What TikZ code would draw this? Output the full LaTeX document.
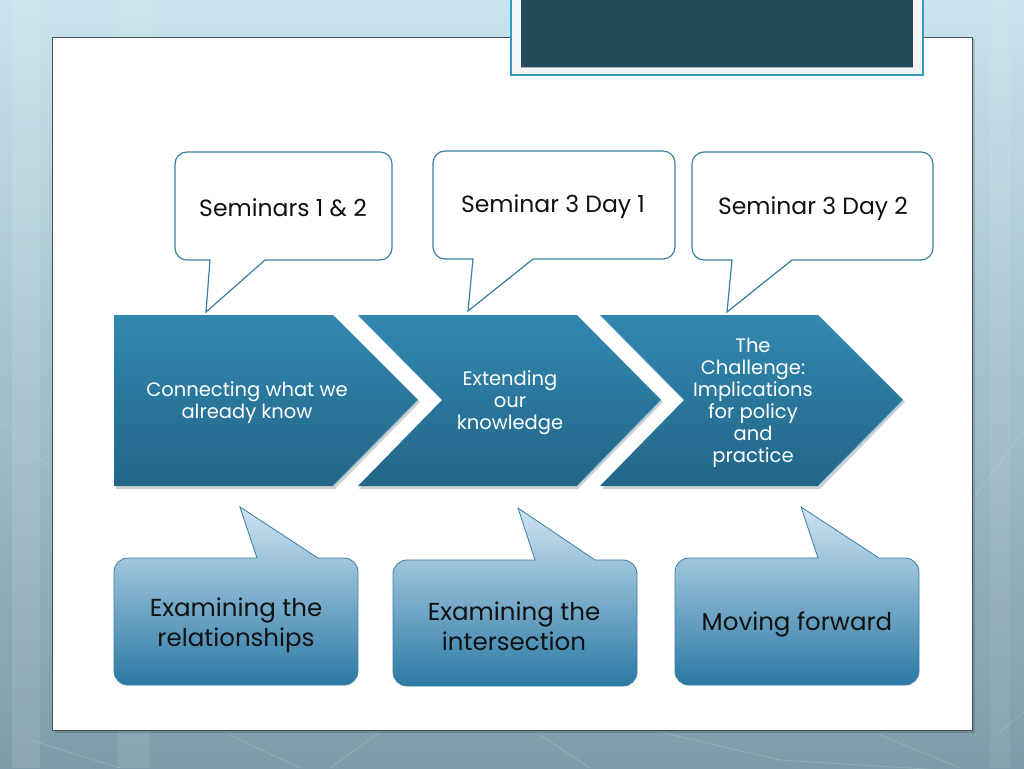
\documentclass[tikz,border=0pt]{standalone}
\usepackage{fontspec}
\setmainfont{Poppins}
\definecolor{bgtop}{HTML}{C8E4EC}
\definecolor{bgmid}{HTML}{A6C7D0}
\definecolor{bgbot}{HTML}{7C9DA7}
\definecolor{panelborder}{HTML}{4A5258}
\definecolor{framefill}{HTML}{F2F4F5}
\definecolor{frameline}{HTML}{2F9CC0}
\definecolor{darkbox}{HTML}{234A5A}
\definecolor{callline}{HTML}{3A80A2}
\definecolor{chevtop}{HTML}{3288B0}
\definecolor{chevbot}{HTML}{226587}
\definecolor{chevedge}{HTML}{6DB0D2}
\definecolor{bubtop}{HTML}{CFE4F3}
\definecolor{bubbot}{HTML}{2A79A4}
\definecolor{bubline}{HTML}{3B7FA3}
\definecolor{txt}{HTML}{111111}
\newcommand\topbubble[8]{({#1+12},#2) -- ({#3-12},#2) arc[start angle=90,end angle=0,radius=12] -- (#3,{#4+12}) arc[start angle=0,end angle=-90,radius=12] -- (#6,#4) -- (#7,#8) -- (#5,#4) -- ({#1+12},#4) arc[start angle=270,end angle=180,radius=12] -- (#1,{#2-12}) arc[start angle=180,end angle=90,radius=12] -- cycle}
\newcommand\botbubble[8]{({#1+14},#2) -- (#5,#2) -- (#7,#8) -- (#6,#2) -- ({#3-14},#2) arc[start angle=90,end angle=0,radius=14] -- (#3,{#4+14}) arc[start angle=0,end angle=-90,radius=14] -- ({#1+14},#4) arc[start angle=270,end angle=180,radius=14] -- (#1,{#2-14}) arc[start angle=180,end angle=90,radius=14] -- cycle}
\tikzset{
  callw/.style={fill=white, draw=callline, line width=1.2pt, line join=miter},
  chevshape/.style={top color=chevtop, bottom color=chevbot},
  chevshadow/.style={fill=black, opacity=0.18},
  chevrim/.style={draw=chevedge, line width=0.8pt},
  bubshape/.style={top color=bubtop, bottom color=bubbot, draw=bubline, line width=0.8pt},
  toptext/.style={text=txt, font=\fontsize{23.5}{28}\selectfont, inner sep=0pt},
  chevtext/.style={text=white, align=center, font=\fontsize{19.5}{22}\selectfont, inner sep=0pt},
  bottext/.style={text=txt, align=center, font=\fontsize{24.5}{30}\selectfont, inner sep=0pt}
}
\begin{document}
\begin{tikzpicture}[x=1pt,y=1pt]
\useasboundingbox (0,0) rectangle (1024,-768);
% background
\shade[top color=bgtop, middle color=bgmid, bottom color=bgbot] (0,0) rectangle (1024,-768);
\fill[white, opacity=0.10] (12,0) rectangle (40,-768);
\fill[white, opacity=0.08] (118,0) rectangle (150,-768);
\fill[white, opacity=0.07] (990,0) rectangle (1010,-768);
\draw[white, opacity=0.22, line width=0.6pt] (30,-740) -- (120,-768);
\draw[white, opacity=0.22, line width=0.6pt] (230,-735) -- (300,-768);
\draw[white, opacity=0.22, line width=0.6pt] (330,-768) -- (380,-732);
\draw[white, opacity=0.22, line width=0.6pt] (540,-735) -- (590,-768);
\draw[white, opacity=0.22, line width=0.6pt] (660,-732) -- (780,-760) -- (1024,-775);
\draw[white, opacity=0.22, line width=0.6pt] (880,-735) -- (960,-768);
\draw[white, opacity=0.22, line width=0.6pt] (1000,-732) -- (1024,-712);
\draw[white, opacity=0.18, line width=0.6pt] (0,-420) -- (52,-470);
\draw[white, opacity=0.18, line width=0.6pt] (972,-500) -- (1024,-430);
% panel
\fill[black, opacity=0.15] (54,-39) rectangle (975,-733);
\draw[fill=white, draw=panelborder, line width=0.8pt] (52,-37) rectangle (972,-730);
% title frame
\draw[fill=framefill, draw=frameline, line width=1.2pt] (511,2) rectangle (923,-75);
\fill[darkbox] (521,2) rectangle (913,-67);
\draw[gray!60, line width=0.6pt] (521,-67) -- (913,-67);
% top callouts
\draw[callw] \topbubble{175}{-152}{392}{-260}{210}{265}{206}{-312};
\draw[callw] \topbubble{433}{-151}{675}{-259}{473}{533}{468}{-311};
\draw[callw] \topbubble{692}{-152}{933}{-260}{732}{792}{727}{-312};
\node[toptext] (t1) at (283,-208) {Seminars 1 \& 2};
\node[toptext] (t2) at (553,-207) {Seminar 3 Day 1};
\node[toptext] (t3) at (813,-209) {Seminar 3 Day 2};
% chevrons shadows
\fill[chevshadow] (116,-317) -- (335,-317) -- (420,-402) -- (335,-489) -- (116,-489) -- cycle;
\fill[chevshadow] (359,-317) -- (578,-317) -- (663,-402) -- (578,-489) -- (359,-489) -- (444,-402) -- cycle;
\fill[chevshadow] (602,-317) -- (820,-317) -- (905,-402) -- (820,-489) -- (602,-489) -- (687,-402) -- cycle;
% chevrons
\shade[chevshape] (114,-315) -- (333,-315) -- (418,-400) -- (333,-486) -- (114,-486) -- cycle;
\shade[chevshape] (358,-315) -- (577,-315) -- (661,-400) -- (577,-486) -- (358,-486) -- (442,-400) -- cycle;
\shade[chevshape] (600,-315) -- (818,-315) -- (903,-400) -- (818,-486) -- (600,-486) -- (684,-400) -- cycle;
\draw[chevrim] (418,-400) -- (333,-486);
\draw[chevrim] (661,-400) -- (577,-486);
\draw[chevrim] (903,-400) -- (818,-486);
\draw[chevrim, opacity=0.6] (358,-315) -- (442,-400);
\draw[chevrim, opacity=0.6] (600,-315) -- (684,-400);
\node[chevtext] (c1) at (247,-403) {Connecting what we\\already know};
\node[chevtext] (c2) at (510,-403) {Extending\\our\\knowledge};
\node[chevtext] (c3) at (753,-403) {The\\Challenge:\\Implications\\for policy\\and\\practice};
% bottom callouts
\draw[bubshape] \botbubble{114}{-558}{358}{-685}{257}{318}{240}{-507};
\draw[bubshape] \botbubble{393}{-560}{637}{-686}{535}{595}{518}{-508};
\draw[bubshape] \botbubble{675}{-558}{919}{-685}{818}{879}{801}{-507};
\node[bottext] (b1) at (236,-625) {Examining the\\relationships};
\node[bottext] (b2) at (514,-626) {Examining the\\intersection};
\node[bottext] (b3) at (797,-624) {Moving forward};
\end{tikzpicture}
\end{document}
